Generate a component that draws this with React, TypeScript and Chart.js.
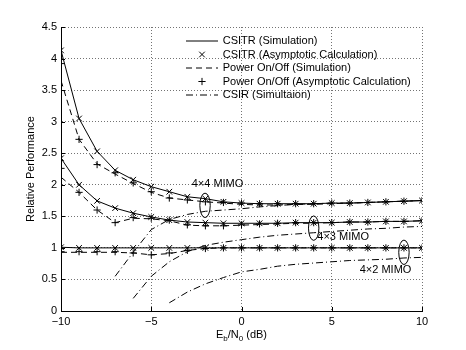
import React, { useEffect, useRef } from 'react';
import { Chart, registerables } from 'chart.js';

Chart.register(...registerables);

// ---------- data ----------
const snrDb = [-10, -9, -8, -7, -6, -5, -4, -3, -2, -1, 0, 1, 2, 3, 4, 5, 6, 7, 8, 9, 10];

// 4x4 MIMO
const csitr44Sim = [4.13, 3.05, 2.53, 2.23, 2.08, 1.97, 1.89, 1.81, 1.78, 1.73, 1.71, 1.70, 1.70, 1.70, 1.70, 1.71, 1.71, 1.72, 1.73, 1.74, 1.75];
const csitr44Asym = [4.13, 3.05, 2.53, 2.23, 2.08, 1.97, 1.89, 1.81, 1.78, 1.73, 1.71, 1.70, 1.70, 1.70, 1.70, 1.71, 1.71, 1.72, 1.73, 1.74, 1.75];
const power44Sim = [3.65, 2.72, 2.33, 2.17, 2.02, 1.88, 1.79, 1.76, 1.73, 1.71, 1.69, 1.68, 1.68, 1.69, 1.69, 1.70, 1.71, 1.72, 1.73, 1.74, 1.75];
const power44Asym = [3.92, 2.72, 2.32, 2.19, 2.03, 1.89, 1.79, 1.76, 1.73, 1.72, 1.71, 1.70, 1.70, 1.70, 1.70, 1.71, 1.71, 1.72, 1.73, 1.74, 1.75];
const csir44Sim = [null, null, null, 0.55, 0.93, 1.29, 1.45, 1.53, 1.58, 1.60, 1.62, 1.65, 1.67, 1.69, 1.70, 1.71, 1.71, 1.72, 1.73, 1.74, 1.75];

// 4x3 MIMO
const csitr43Sim = [2.42, 2.00, 1.745, 1.63, 1.55, 1.49, 1.44, 1.41, 1.40, 1.39, 1.39, 1.39, 1.39, 1.40, 1.40, 1.40, 1.41, 1.41, 1.42, 1.42, 1.43];
const csitr43Asym = [2.42, 2.00, 1.745, 1.63, 1.55, 1.49, 1.44, 1.41, 1.40, 1.39, 1.39, 1.39, 1.39, 1.40, 1.40, 1.40, 1.41, 1.41, 1.42, 1.42, 1.43];
const power43Sim = [2.12, 1.88, 1.60, 1.40, 1.47, 1.46, 1.43, 1.36, 1.35, 1.35, 1.36, 1.37, 1.38, 1.39, 1.39, 1.40, 1.41, 1.41, 1.42, 1.42, 1.43];
const power43Asym = [2.26, 1.88, 1.60, 1.40, 1.48, 1.47, 1.44, 1.365, 1.35, 1.35, 1.365, 1.38, 1.39, 1.40, 1.40, 1.40, 1.41, 1.41, 1.42, 1.42, 1.43];
const csir43Sim = [null, null, null, null, 0.20, 0.55, 0.78, 0.94, 1.04, 1.09, 1.13, 1.17, 1.20, 1.22, 1.24, 1.26, 1.28, 1.30, 1.31, 1.33, 1.34];

// 4x2 MIMO
const csitr42Sim = [1.01, 1.0, 1.0, 1.0, 1.0, 1.0, 1.0, 1.0, 1.0, 1.0, 1.0, 1.0, 1.0, 1.0, 1.0, 1.0, 1.0, 1.0, 1.0, 1.0, 1.0];
const csitr42Asym = [1.01, 1.0, 1.0, 1.0, 1.0, 1.0, 1.0, 1.0, 1.0, 1.0, 1.0, 1.0, 1.0, 1.0, 1.0, 1.0, 1.0, 1.0, 1.0, 1.0, 1.0];
const power42Sim = [0.93, 0.93, 0.93, 0.93, 0.92, 0.89, 0.91, 0.96, 0.99, 1.0, 1.0, 1.0, 1.0, 1.0, 1.0, 1.0, 1.0, 1.0, 1.0, 1.0, 1.0];
const power42Asym = [0.94, 0.94, 0.94, 0.94, 0.92, 0.89, 0.92, 0.96, 0.99, 1.0, 1.0, 1.0, 1.0, 1.0, 1.0, 1.0, 1.0, 1.0, 1.0, 1.0, 1.0];
const csir42Sim = [null, null, null, null, null, null, 0.13, 0.30, 0.43, 0.53, 0.62, 0.66, 0.71, 0.74, 0.76, 0.78, 0.80, 0.81, 0.82, 0.84, 0.85];

// axes
const xTickValues = [-10, -5, 0, 5, 10];
const yTickValues = [0, 0.5, 1, 1.5, 2, 2.5, 3, 3.5, 4, 4.5];
const yAxisTitle = 'Relative Performance';

// legend
const legendLabels = [
  'CSITR (Simulation)',
  'CSITR (Asymptotic Calculation)',
  'Power On/Off (Simulation)',
  'Power On/Off (Asymptotic Calculation)',
  'CSIR (Simultaion)',
];

// annotations (label text + data-space anchors)
const annotationLabels = ['4\u00d74 MIMO', '4\u00d73 MIMO', '4\u00d72 MIMO'];
const ellipseCentersX = [-2.02, 4.0, 9.0];
const ellipseCentersY = [1.674, 1.313, 0.93];
const labelCentersX = [-1.33, 5.63, 7.98];
const labelCentersY = [2.02, 1.168, 0.653];

// ---------- styles ----------
const FONT = "'Liberation Sans', Arial, Helvetica, sans-serif";
const DASH = [6, 4];
const DASHDOT = [7, 3, 1, 3];

const toPoints = (ys: (number | null)[]) => snrDb.map((x, i) => ({ x, y: ys[i] }));

type Kind = 'solid' | 'xmark' | 'dashed' | 'plus' | 'dashdot';

const makeDs = (ys: (number | null)[], kind: Kind) => {
  const base: any = {
    data: toPoints(ys),
    borderColor: '#000',
    backgroundColor: '#000',
    borderWidth: 1,
    fill: false,
    tension: 0,
    spanGaps: false,
    pointRadius: 0,
    pointHoverRadius: 0,
  };
  if (kind === 'dashed') base.borderDash = DASH;
  if (kind === 'dashdot') base.borderDash = DASHDOT;
  if (kind === 'xmark') {
    base.showLine = false;
    base.pointStyle = 'crossRot';
    base.pointRadius = 4;
    base.pointBorderWidth = 1;
  }
  if (kind === 'plus') {
    base.showLine = false;
    base.pointStyle = 'cross';
    base.pointRadius = 3.6;
    base.pointBorderWidth = 1;
  }
  return base;
};

const drawXMark = (ctx: CanvasRenderingContext2D, x: number, y: number, r: number) => {
  ctx.beginPath();
  ctx.moveTo(x - r, y - r);
  ctx.lineTo(x + r, y + r);
  ctx.moveTo(x - r, y + r);
  ctx.lineTo(x + r, y - r);
  ctx.stroke();
};
const drawPlus = (ctx: CanvasRenderingContext2D, x: number, y: number, r: number) => {
  ctx.beginPath();
  ctx.moveTo(x - r, y);
  ctx.lineTo(x + r, y);
  ctx.moveTo(x, y - r);
  ctx.lineTo(x, y + r);
  ctx.stroke();
};

const overlayPlugin = {
  id: 'overlay',
  afterDraw(chart: any) {
    const { ctx, chartArea, scales } = chart;
    const xs = scales.x;
    const ys = scales.y;
    ctx.save();
    ctx.strokeStyle = '#000';
    ctx.fillStyle = '#000';
    ctx.lineWidth = 1;

    // inward tick marks
    ctx.beginPath();
    xTickValues.forEach((v) => {
      const px = Math.round(xs.getPixelForValue(v)) + 0.5;
      ctx.moveTo(px, chartArea.bottom);
      ctx.lineTo(px, chartArea.bottom - 4);
    });
    yTickValues.forEach((v) => {
      const py = Math.round(ys.getPixelForValue(v)) + 0.5;
      ctx.moveTo(chartArea.left, py);
      ctx.lineTo(chartArea.left + 4, py);
    });
    ctx.stroke();

    // ellipses and labels
    ctx.font = `11px ${FONT}`;
    ctx.textAlign = 'center';
    ctx.textBaseline = 'middle';
    annotationLabels.forEach((label, i) => {
      const ex = xs.getPixelForValue(ellipseCentersX[i]);
      const ey = ys.getPixelForValue(ellipseCentersY[i]);
      ctx.beginPath();
      ctx.ellipse(ex, ey, 5.2, 12.2, 0, 0, Math.PI * 2);
      ctx.stroke();
      const lx = xs.getPixelForValue(labelCentersX[i]);
      const ly = ys.getPixelForValue(labelCentersY[i]);
      ctx.fillText(label, lx, ly);
    });

    // legend
    const lineX0 = 186;
    const lineX1 = 218;
    const textX = 222.7;
    const rowY0 = 41;
    const rowStep = 13.5;
    ctx.textAlign = 'left';
    legendLabels.forEach((label, i) => {
      const y = rowY0 + i * rowStep;
      ctx.save();
      if (i === 0 || i === 2 || i === 4) {
        ctx.setLineDash(i === 0 ? [] : i === 2 ? DASH : DASHDOT);
        ctx.beginPath();
        ctx.moveTo(lineX0, y);
        ctx.lineTo(lineX1, y);
        ctx.stroke();
      } else if (i === 1) {
        drawXMark(ctx, (lineX0 + lineX1) / 2, y, 2.8);
      } else {
        drawPlus(ctx, (lineX0 + lineX1) / 2, y, 3.6);
      }
      ctx.restore();
      ctx.fillText(label, textX, y);
    });

    // y axis title
    ctx.save();
    ctx.translate(31, (chartArea.top + chartArea.bottom) / 2);
    ctx.rotate(-Math.PI / 2);
    ctx.textAlign = 'center';
    ctx.textBaseline = 'middle';
    ctx.fillText(yAxisTitle, 0, 0);
    ctx.restore();

    // x axis title with subscripts: E_b/N_0 (dB)
    const big = `11px ${FONT}`;
    const small = `8px ${FONT}`;
    const parts: [string, boolean][] = [
      ['E', false],
      ['b', true],
      ['/N', false],
      ['0', true],
      [' (dB)', false],
    ];
    let total = 0;
    parts.forEach(([t, sub]) => {
      ctx.font = sub ? small : big;
      total += ctx.measureText(t).width;
    });
    let cx = (chartArea.left + chartArea.right) / 2 - total / 2;
    const baseY = 337.5;
    ctx.textAlign = 'left';
    ctx.textBaseline = 'alphabetic';
    parts.forEach(([t, sub]) => {
      ctx.font = sub ? small : big;
      ctx.fillText(t, cx, sub ? baseY + 3.5 : baseY);
      cx += ctx.measureText(t).width;
    });

    ctx.restore();
  },
};

export default function App() {
  const canvasRef = useRef<HTMLCanvasElement | null>(null);

  useEffect(() => {
    const canvas = canvasRef.current;
    if (!canvas) return;
    Chart.defaults.font.family = FONT;
    Chart.defaults.font.size = 11;
    Chart.defaults.color = '#000';

    const datasets = [
      makeDs(csitr44Sim, 'solid'),
      makeDs(csitr44Asym, 'xmark'),
      makeDs(power44Sim, 'dashed'),
      makeDs(power44Asym, 'plus'),
      makeDs(csir44Sim, 'dashdot'),
      makeDs(csitr43Sim, 'solid'),
      makeDs(csitr43Asym, 'xmark'),
      makeDs(power43Sim, 'dashed'),
      makeDs(power43Asym, 'plus'),
      makeDs(csir43Sim, 'dashdot'),
      makeDs(csitr42Sim, 'solid'),
      makeDs(csitr42Asym, 'xmark'),
      makeDs(power42Sim, 'dashed'),
      makeDs(power42Asym, 'plus'),
      makeDs(csir42Sim, 'dashdot'),
    ];

    const gridCommon = {
      color: 'rgba(0,0,0,0.55)',
      lineWidth: 1,
      drawTicks: false,
    };

    const chart = new Chart(canvas, {
      type: 'line',
      data: { datasets },
      options: {
        animation: false,
        responsive: false,
        devicePixelRatio: 1,
        events: [],
        layout: { padding: { left: 0, right: 44, top: 27, bottom: 0 } },
        plugins: {
          legend: { display: false },
          tooltip: { enabled: false },
          title: { display: false },
        },
        scales: {
          x: {
            type: 'linear',
            min: -10,
            max: 10,
            afterFit: (s: any) => {
              s.height = 39;
            },
            afterBuildTicks: (s: any) => {
              s.ticks = xTickValues.map((v) => ({ value: v }));
            },
            ticks: {
              padding: 4,
              color: '#000',
              font: { size: 11, family: FONT },
              maxRotation: 0,
              callback: (v: any) => (Number(v) < 0 ? '\u2212' + Math.abs(Number(v)) : String(v)),
            },
            grid: gridCommon,
            border: { display: true, color: '#000', width: 1, dash: [1, 2] },
          },
          y: {
            type: 'linear',
            min: 0,
            max: 4.5,
            afterFit: (s: any) => {
              s.width = 61;
            },
            afterBuildTicks: (s: any) => {
              s.ticks = yTickValues.map((v) => ({ value: v }));
            },
            ticks: {
              padding: 4,
              color: '#000',
              font: { size: 11, family: FONT },
              callback: (v: any) => String(v),
            },
            grid: gridCommon,
            border: { display: true, color: '#000', width: 1, dash: [1, 2] },
          },
        },
      },
      plugins: [overlayPlugin],
    } as any);

    return () => {
      chart.destroy();
    };
  }, []);

  return (
    <div style={{ position: 'fixed', left: 0, top: 0, width: 466, height: 350, background: '#fff' }}>
      <canvas ref={canvasRef} width={466} height={350} style={{ display: 'block', width: 466, height: 350 }} />
    </div>
  );
}
